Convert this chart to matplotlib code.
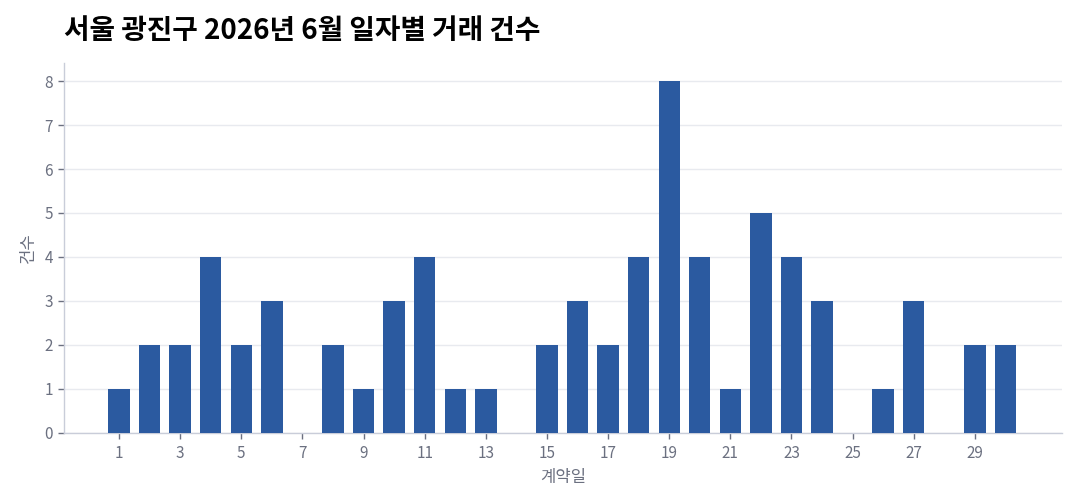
import matplotlib.pyplot as plt

plt.rcParams['font.family'] = ['Noto Sans CJK KR', 'DejaVu Sans']

# 일자별 거래 건수
days = list(range(1, 31))
counts = [1, 2, 2, 4, 2, 3, 0, 2, 1, 3, 4, 1, 1, 0, 2,
          3, 2, 4, 8, 4, 1, 5, 4, 3, 0, 1, 3, 0, 2, 2]
xticks = list(range(1, 30, 2))
yticks = list(range(0, 9))

title = '서울 광진구 2026년 6월 일자별 거래 건수'
bar_color = '#2b5aa0'
spine_color = '#c9cdd9'
text_color = '#6b7080'

fig = plt.figure(figsize=(10.8, 5.04), dpi=100)
ax = fig.add_axes([0.0593, 0.141, 0.924, 0.734])

ax.bar(days, counts, width=0.7, color=bar_color, zorder=3)

ax.set_xlim(-0.8, 31.85)
ax.set_ylim(0, 8.41)
ax.set_xticks(xticks)
ax.set_yticks(yticks)

ax.grid(axis='y', color='#e8eaef', linewidth=1, zorder=0)
for s in ['top', 'right']:
    ax.spines[s].set_visible(False)
for s in ['left', 'bottom']:
    ax.spines[s].set_color(spine_color)
    ax.spines[s].set_linewidth(1)

ax.tick_params(colors=text_color, labelsize=11, length=4, width=1)
ax.tick_params(axis='x', pad=5)
ax.tick_params(axis='y', pad=4)

ax.set_xlabel('계약일', color=text_color, fontsize=12, labelpad=5)
ax.set_ylabel('건수', color=text_color, fontsize=12, labelpad=5)

fig.text(0.0593, 0.938, title, fontsize=20, fontweight='bold',
         color='black', ha='left', va='center')

fig.savefig('out.png', dpi=100)
